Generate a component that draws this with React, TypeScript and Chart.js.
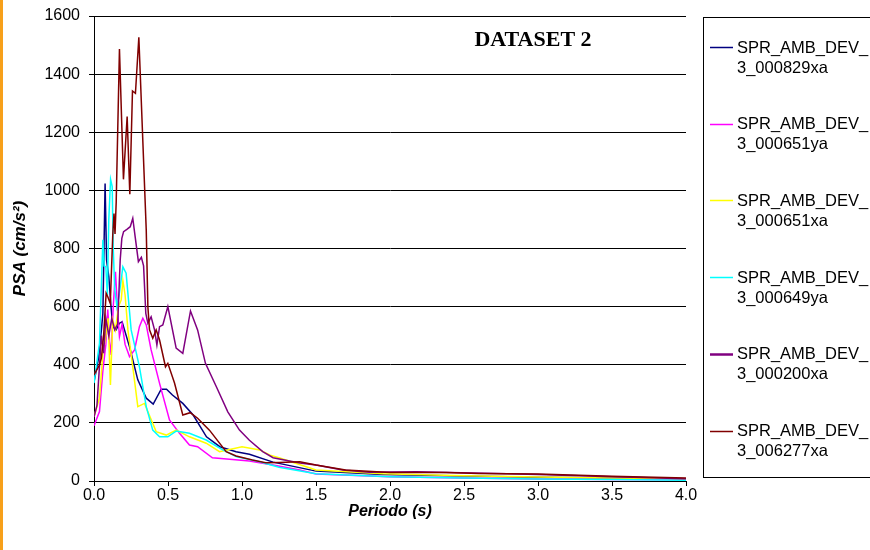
import React, { useEffect, useRef } from "react";
import { Chart, registerables } from "chart.js";

Chart.register(...registerables);

// ---- data (period in s, PSA in cm/s^2) ----
const seriesNames = [
  "3_000829xa",
  "3_000651ya",
  "3_000651xa",
  "3_000649ya",
  "3_000200xa",
  "3_006277xa",
];
const seriesPrefix = "SPR_AMB_DEV_";
const seriesColors = ["#000080", "#FF00FF", "#FFFF00", "#00FFFF", "#800080", "#800000"];

const xTicks = [0, 0.5, 1, 1.5, 2, 2.5, 3, 3.5, 4];
const yTicks = [0, 200, 400, 600, 800, 1000, 1200, 1400, 1600];

const navyT = [0.0, 0.03, 0.05, 0.06, 0.075, 0.085, 0.1, 0.115, 0.127, 0.15, 0.172, 0.19, 0.206, 0.24, 0.296, 0.353, 0.4, 0.454, 0.49, 0.53, 0.6, 0.67, 0.76, 0.85, 0.96, 1.05, 1.21, 1.5, 1.95, 2.5, 3.0, 3.5, 4.0];
const navyPSA = [340, 420, 520, 577, 1024, 760, 703, 600, 531, 520, 543, 548, 520, 462, 348, 285, 265, 316, 316, 296, 267, 227, 152, 118, 101, 92, 65, 34, 22, 17, 13, 10, 7];

const magentaT = [0.0, 0.037, 0.06, 0.08, 0.093, 0.105, 0.116, 0.13, 0.145, 0.16, 0.172, 0.19, 0.21, 0.24, 0.274, 0.307, 0.33, 0.353, 0.386, 0.443, 0.51, 0.578, 0.645, 0.7, 0.8, 0.916, 1.05, 1.21, 1.39, 1.5, 2.0, 2.5, 3.0, 3.5, 4.0];
const magentaPSA = [190, 239, 380, 470, 590, 480, 434, 600, 720, 580, 497, 540, 470, 428, 451, 531, 560, 537, 451, 336, 210, 164, 124, 118, 80, 75, 69, 55, 38, 24, 15, 10, 7, 5, 4];

const yellowT = [0.0, 0.037, 0.06, 0.08, 0.095, 0.111, 0.127, 0.145, 0.165, 0.184, 0.195, 0.21, 0.229, 0.262, 0.296, 0.341, 0.42, 0.488, 0.555, 0.645, 0.758, 0.848, 1.0, 1.12, 1.19, 1.25, 1.5, 1.95, 2.5, 3.0, 3.5, 4.0];
const yellowPSA = [221, 285, 440, 500, 560, 330, 554, 520, 600, 623, 690, 640, 520, 393, 256, 267, 170, 158, 175, 152, 130, 101, 118, 107, 89, 80, 38, 25, 18, 14, 10, 8];

const cyanT = [0.0, 0.037, 0.06, 0.068, 0.08, 0.09, 0.1, 0.112, 0.123, 0.13, 0.14, 0.155, 0.17, 0.195, 0.217, 0.251, 0.307, 0.353, 0.397, 0.443, 0.499, 0.555, 0.645, 0.758, 0.87, 0.96, 1.12, 1.25, 1.5, 2.0, 2.5, 3.0, 3.5, 4.0];
const cyanPSA = [337, 474, 830, 740, 737, 640, 900, 1038, 1013, 800, 660, 600, 640, 737, 715, 520, 393, 256, 175, 152, 152, 172, 164, 141, 107, 84, 66, 47, 25, 15, 10, 7, 5, 3];

const purpleT = [0.0, 0.02, 0.04, 0.05, 0.065, 0.08, 0.1, 0.12, 0.14, 0.16, 0.177, 0.188, 0.2, 0.222, 0.245, 0.262, 0.278, 0.3, 0.32, 0.335, 0.35, 0.364, 0.386, 0.409, 0.425, 0.443, 0.465, 0.499, 0.555, 0.6, 0.652, 0.7, 0.753, 0.826, 0.904, 0.983, 1.05, 1.14, 1.21, 1.39, 1.5, 1.68, 1.86, 2.18, 2.4, 2.72, 3.0, 3.5, 4.0];
const purplePSA = [220, 260, 420, 500, 440, 560, 500, 560, 520, 540, 760, 835, 858, 866, 875, 904, 841, 755, 770, 740, 577, 543, 565, 520, 468, 531, 537, 600, 457, 439, 585, 520, 405, 325, 238, 175, 140, 101, 80, 62, 55, 38, 30, 32, 29, 26, 22, 15, 8];

const darkRedT = [0.0, 0.037, 0.05, 0.065, 0.082, 0.093, 0.11, 0.127, 0.135, 0.142, 0.15, 0.172, 0.199, 0.224, 0.242, 0.26, 0.28, 0.303, 0.353, 0.364, 0.375, 0.397, 0.42, 0.443, 0.483, 0.499, 0.544, 0.6, 0.65, 0.7, 0.78, 0.893, 0.96, 1.07, 1.16, 1.25, 1.39, 1.5, 1.7, 2.0, 2.38, 2.6, 3.0, 3.5, 4.0];
const darkRedPSA = [365, 399, 423, 500, 646, 634, 611, 850, 920, 850, 960, 1486, 1038, 1254, 987, 1342, 1334, 1527, 864, 600, 520, 491, 520, 485, 393, 405, 337, 227, 235, 216, 175, 101, 86, 72, 63, 64, 66, 55, 38, 29, 29, 26, 24, 16, 10];

const seriesT = [navyT, magentaT, yellowT, cyanT, purpleT, darkRedT];
const seriesPSA = [navyPSA, magentaPSA, yellowPSA, cyanPSA, purplePSA, darkRedPSA];

const titleText = "DATASET 2";
const xTitle = "Periodo (s)";
const yTitle = "PSA (cm/s²)";

const FONT = "Arial, 'Liberation Sans', sans-serif";

const decorPlugin = {
  id: "decor",
  beforeDraw(chart: any) {
    const ctx = chart.ctx;
    ctx.save();
    ctx.fillStyle = "#ffffff";
    ctx.fillRect(0, 0, chart.width, chart.height);
    ctx.fillStyle = "#F7A01A";
    ctx.fillRect(0, 0, 3, chart.height);
    ctx.restore();
  },
  afterDraw(chart: any) {
    const ctx = chart.ctx;
    ctx.save();
    // title
    ctx.fillStyle = "#000";
    ctx.font = "bold 22px 'Times New Roman', 'Liberation Serif', serif";
    ctx.textAlign = "center";
    ctx.textBaseline = "middle";
    ctx.fillText(titleText, 533, 40);

    // legend box
    const bx = 703.5;
    const by = 17.5;
    const bh = 460;
    ctx.strokeStyle = "#000";
    ctx.lineWidth = 1;
    ctx.strokeRect(bx, by, 400, bh);
    ctx.font = `16.5px ${FONT}`;
    ctx.textAlign = "left";
    ctx.textBaseline = "middle";
    const step = 76.7;
    for (let i = 0; i < seriesNames.length; i++) {
      const y = 47 + i * step;
      ctx.strokeStyle = seriesColors[i];
      ctx.lineWidth = i === 4 ? 2.5 : 1.5;
      ctx.beginPath();
      ctx.moveTo(710, Math.round(y) + 0.5);
      ctx.lineTo(733, Math.round(y) + 0.5);
      ctx.stroke();
      ctx.fillStyle = "#000";
      ctx.fillText(seriesPrefix, 737, y + 1);
      ctx.fillText(seriesNames[i], 737, y + 21);
    }
    ctx.restore();
  },
};

export default function App() {
  const ref = useRef<HTMLCanvasElement>(null);
  useEffect(() => {
    document.body.style.margin = "0";
    const datasets = seriesNames.map((name, i) => ({
      label: seriesPrefix + name,
      data: seriesT[i].map((t, k) => ({ x: t, y: seriesPSA[i][k] })),
      borderColor: seriesColors[i],
      backgroundColor: seriesColors[i],
      borderWidth: 1.5,
      pointRadius: 0,
      tension: 0,
      fill: false,
      order: seriesNames.length - i,
    }));
    const chart = new Chart(ref.current as HTMLCanvasElement, {
      type: "line",
      data: { datasets },
      options: {
        responsive: false,
        animation: false,
        devicePixelRatio: 1,
        layout: { padding: { left: 0, top: 16, right: 184, bottom: 0 } },
        plugins: {
          legend: { display: false },
          tooltip: { enabled: false },
          title: { display: false },
        },
        scales: {
          x: {
            type: "linear",
            min: 0,
            max: 4,
            afterBuildTicks: (s: any) => {
              s.ticks = xTicks.map((v) => ({ value: v }));
            },
            afterFit: (s: any) => {
              s.height = 69;
              s.paddingLeft = 0;
              s.paddingRight = 0;
            },
            ticks: {
              color: "#000",
              font: { family: FONT, size: 16 },
              padding: 0,
              maxRotation: 0,
              callback: (v: any) => Number(v).toFixed(1),
            },
            grid: { drawOnChartArea: false, drawTicks: true, tickLength: 5, color: "#000" },
            border: { color: "#000", width: 1 },
            title: {
              display: true,
              text: xTitle,
              color: "#000",
              font: { family: FONT, size: 16, weight: "bold", style: "italic" },
              padding: { top: 0, bottom: 29 },
            },
          },
          y: {
            type: "linear",
            min: 0,
            max: 1600,
            afterBuildTicks: (s: any) => {
              s.ticks = yTicks.map((v) => ({ value: v }));
            },
            afterFit: (s: any) => {
              s.width = 94;
              s.paddingTop = 0;
              s.paddingBottom = 0;
            },
            ticks: {
              color: "#000",
              font: { family: FONT, size: 16 },
              padding: 9,
              callback: (v: any) => String(v),
            },
            grid: { color: "#000", lineWidth: 1, tickLength: 5 },
            border: { color: "#000", width: 1 },
            title: {
              display: true,
              text: yTitle,
              color: "#000",
              font: { family: FONT, size: 17, weight: "bold", style: "italic" },
              padding: { top: 10, bottom: 0 },
            },
          },
        },
      },
      plugins: [decorPlugin],
    } as any);
    return () => chart.destroy();
  }, []);
  return (
    <div style={{ width: 870, height: 550, position: "relative", overflow: "hidden" }}>
      <canvas ref={ref} width={870} height={550} style={{ display: "block" }} />
    </div>
  );
}
